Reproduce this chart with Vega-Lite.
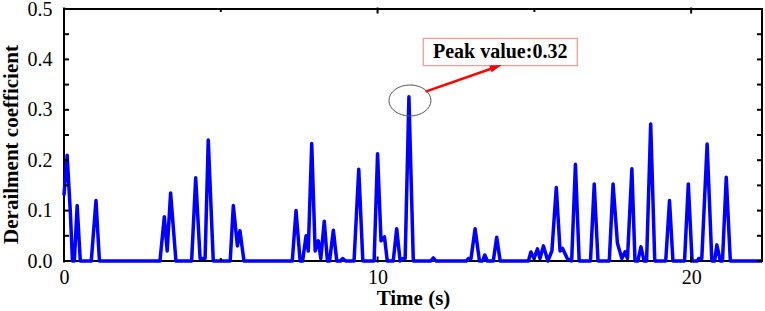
{
  "$schema": "https://vega.github.io/schema/vega-lite/v6.json",
  "width": 698,
  "height": 252,
  "autosize": {"type": "none"},
  "padding": {"left": 64, "top": 9, "right": 3, "bottom": 50},
  "background": "white",
  "config": {
    "view": {"stroke": "black", "strokeWidth": 2},
    "font": "Liberation Serif",
    "axis": {
      "domain": false,
      "grid": false,
      "ticks": false,
      "labelFont": "Liberation Serif",
      "labelFontSize": 20,
      "labelColor": "black",
      "labelFlush": false,
      "titleFont": "Liberation Serif",
      "titleFontSize": 21,
      "titleFontWeight": "bold",
      "titleColor": "black"
    }
  },
  "datasets": {
    "series": [
      {"t": 0, "c": 0.13}, {"t": 0.1, "c": 0.21}, {"t": 0.2, "c": 0.1}, {"t": 0.27, "c": 0}, {"t": 0.33, "c": 0},
      {"t": 0.42, "c": 0.11}, {"t": 0.52, "c": 0}, {"t": 0.87, "c": 0}, {"t": 1.02, "c": 0.12}, {"t": 1.13, "c": 0},
      {"t": 3.06, "c": 0}, {"t": 3.2, "c": 0.088}, {"t": 3.29, "c": 0.02}, {"t": 3.4, "c": 0.135}, {"t": 3.57, "c": 0},
      {"t": 4.07, "c": 0}, {"t": 4.2, "c": 0.165}, {"t": 4.34, "c": 0.005}, {"t": 4.5, "c": 0.005}, {"t": 4.6, "c": 0.24},
      {"t": 4.76, "c": 0}, {"t": 5.3, "c": 0}, {"t": 5.4, "c": 0.11}, {"t": 5.53, "c": 0.03}, {"t": 5.61, "c": 0.06},
      {"t": 5.74, "c": 0}, {"t": 7.28, "c": 0}, {"t": 7.4, "c": 0.1}, {"t": 7.53, "c": 0}, {"t": 7.61, "c": 0},
      {"t": 7.72, "c": 0.05}, {"t": 7.79, "c": 0.02}, {"t": 7.9, "c": 0.233}, {"t": 8.01, "c": 0.02}, {"t": 8.11, "c": 0.04},
      {"t": 8.19, "c": 0.005}, {"t": 8.3, "c": 0.079}, {"t": 8.4, "c": 0}, {"t": 8.47, "c": 0}, {"t": 8.59, "c": 0.061},
      {"t": 8.7, "c": 0}, {"t": 8.82, "c": 0}, {"t": 8.89, "c": 0.005}, {"t": 8.98, "c": 0}, {"t": 9.25, "c": 0},
      {"t": 9.4, "c": 0.182}, {"t": 9.53, "c": 0}, {"t": 9.89, "c": 0}, {"t": 10.0, "c": 0.213}, {"t": 10.11, "c": 0.04},
      {"t": 10.22, "c": 0.048}, {"t": 10.31, "c": 0}, {"t": 10.5, "c": 0}, {"t": 10.61, "c": 0.064}, {"t": 10.72, "c": 0},
      {"t": 10.82, "c": 0.005}, {"t": 10.88, "c": 0.005}, {"t": 11.0, "c": 0.326}, {"t": 11.14, "c": 0}, {"t": 11.7, "c": 0},
      {"t": 11.78, "c": 0.006}, {"t": 11.86, "c": 0}, {"t": 12.83, "c": 0}, {"t": 12.9, "c": 0.005}, {"t": 12.98, "c": 0.005},
      {"t": 13.11, "c": 0.064}, {"t": 13.25, "c": 0}, {"t": 13.35, "c": 0}, {"t": 13.42, "c": 0.012}, {"t": 13.5, "c": 0},
      {"t": 13.69, "c": 0}, {"t": 13.8, "c": 0.047}, {"t": 13.91, "c": 0}, {"t": 14.81, "c": 0}, {"t": 14.89, "c": 0.018},
      {"t": 14.99, "c": 0.005}, {"t": 15.1, "c": 0.024}, {"t": 15.18, "c": 0.005}, {"t": 15.29, "c": 0.03}, {"t": 15.43, "c": 0},
      {"t": 15.56, "c": 0.02}, {"t": 15.7, "c": 0.146}, {"t": 15.82, "c": 0.02}, {"t": 15.9, "c": 0.025}, {"t": 16.05, "c": 0.005},
      {"t": 16.19, "c": 0}, {"t": 16.31, "c": 0.192}, {"t": 16.43, "c": 0}, {"t": 16.79, "c": 0}, {"t": 16.91, "c": 0.153},
      {"t": 17.03, "c": 0}, {"t": 17.39, "c": 0}, {"t": 17.51, "c": 0.153}, {"t": 17.65, "c": 0.035}, {"t": 17.79, "c": 0.005},
      {"t": 17.89, "c": 0.018}, {"t": 17.97, "c": 0.005}, {"t": 18.11, "c": 0.183}, {"t": 18.21, "c": 0}, {"t": 18.3, "c": 0},
      {"t": 18.4, "c": 0.028}, {"t": 18.5, "c": 0}, {"t": 18.58, "c": 0}, {"t": 18.71, "c": 0.272}, {"t": 18.84, "c": 0},
      {"t": 19.19, "c": 0}, {"t": 19.31, "c": 0.12}, {"t": 19.42, "c": 0}, {"t": 19.79, "c": 0}, {"t": 19.91, "c": 0.153},
      {"t": 20.03, "c": 0}, {"t": 20.2, "c": 0}, {"t": 20.24, "c": 0.005}, {"t": 20.34, "c": 0.005}, {"t": 20.51, "c": 0.232},
      {"t": 20.66, "c": 0}, {"t": 20.75, "c": 0}, {"t": 20.82, "c": 0.032}, {"t": 20.93, "c": 0}, {"t": 21.0, "c": 0},
      {"t": 21.12, "c": 0.166}, {"t": 21.25, "c": 0}, {"t": 22.26, "c": 0}
    ],
    "xticks": [{"t": 0}, {"t": 5}, {"t": 10}, {"t": 15}, {"t": 20}],
    "yticks": [{"c": 0}, {"c": 0.05}, {"c": 0.1}, {"c": 0.15}, {"c": 0.2}, {"c": 0.25}, {"c": 0.3}, {"c": 0.35}, {"c": 0.4}, {"c": 0.45}, {"c": 0.5}],
    "annot": [
      {"peak_t": 11.033, "peak_c": 0.3185, "arrow_t0": 11.53, "arrow_c0": 0.336, "arrow_t1": 13.78, "arrow_c1": 0.385,
       "box_t0": 11.457, "box_t1": 16.368, "box_c0": 0.3875, "box_c1": 0.4419, "label_t": 13.91, "label_c": 0.4147,
       "label": "Peak value:0.32"}
    ]
  },
  "layer": [
    {
      "data": {"name": "series"},
      "mark": {"type": "line", "color": "#0000ff", "strokeWidth": 3.5, "strokeJoin": "round"},
      "encoding": {
        "x": {"field": "t", "type": "quantitative", "scale": {"domain": [0, 22.26], "nice": false, "zero": false},
              "axis": {"orient": "bottom", "values": [0, 10, 20], "labelPadding": 6, "title": "Time (s)", "titlePadding": 0}},
        "y": {"field": "c", "type": "quantitative", "scale": {"domain": [0, 0.5], "nice": false},
              "axis": {"orient": "left", "values": [0, 0.1, 0.2, 0.3, 0.4, 0.5], "format": ".1f", "labelPadding": 12, "title": "Derailment coefficient", "titlePadding": 6, "titleY": 135}}
      }
    },
    {
      "data": {"name": "xticks"},
      "mark": {"type": "tick", "orient": "vertical", "color": "black", "thickness": 2, "opacity": 1},
      "encoding": {
        "x": {"field": "t", "type": "quantitative", "scale": {"domain": [0, 22.26], "nice": false, "zero": false},
              "axis": {"orient": "bottom", "values": [0, 10, 20], "labelPadding": 6, "title": "Time (s)", "titlePadding": 0}},
        "y": {"datum": 0, "type": "quantitative", "scale": {"domain": [0, 0.5], "nice": false},
              "axis": {"orient": "left", "values": [0, 0.1, 0.2, 0.3, 0.4, 0.5], "format": ".1f", "labelPadding": 12, "title": "Derailment coefficient", "titlePadding": 6, "titleY": 135}},
        "size": {"condition": {"test": "datum.t % 10 == 0", "value": 6}, "value": 3},
        "yOffset": {"condition": {"test": "datum.t % 10 == 0", "value": -3}, "value": -1.5}
      }
    },
    {
      "data": {"name": "xticks"},
      "mark": {"type": "tick", "orient": "vertical", "color": "black", "thickness": 2, "opacity": 1},
      "encoding": {
        "x": {"field": "t", "type": "quantitative", "scale": {"domain": [0, 22.26], "nice": false, "zero": false},
              "axis": {"orient": "bottom", "values": [0, 10, 20], "labelPadding": 6, "title": "Time (s)", "titlePadding": 0}},
        "y": {"datum": 0.5, "type": "quantitative", "scale": {"domain": [0, 0.5], "nice": false},
              "axis": {"orient": "left", "values": [0, 0.1, 0.2, 0.3, 0.4, 0.5], "format": ".1f", "labelPadding": 12, "title": "Derailment coefficient", "titlePadding": 6, "titleY": 135}},
        "size": {"condition": {"test": "datum.t % 10 == 0", "value": 6}, "value": 3},
        "yOffset": {"condition": {"test": "datum.t % 10 == 0", "value": 3}, "value": 1.5}
      }
    },
    {
      "data": {"name": "yticks"},
      "mark": {"type": "tick", "orient": "horizontal", "color": "black", "thickness": 2, "size": 5, "xOffset": 2.5, "opacity": 1},
      "encoding": {
        "y": {"field": "c", "type": "quantitative", "scale": {"domain": [0, 0.5], "nice": false},
              "axis": {"orient": "left", "values": [0, 0.1, 0.2, 0.3, 0.4, 0.5], "format": ".1f", "labelPadding": 12, "title": "Derailment coefficient", "titlePadding": 6, "titleY": 135}},
        "x": {"datum": 0, "type": "quantitative", "scale": {"domain": [0, 22.26], "nice": false, "zero": false},
              "axis": {"orient": "bottom", "values": [0, 10, 20], "labelPadding": 6, "title": "Time (s)", "titlePadding": 0}}
      }
    },
    {
      "data": {"name": "yticks"},
      "mark": {"type": "tick", "orient": "horizontal", "color": "black", "thickness": 2, "size": 5, "xOffset": -2.5, "opacity": 1},
      "encoding": {
        "y": {"field": "c", "type": "quantitative", "scale": {"domain": [0, 0.5], "nice": false},
              "axis": {"orient": "left", "values": [0, 0.1, 0.2, 0.3, 0.4, 0.5], "format": ".1f", "labelPadding": 12, "title": "Derailment coefficient", "titlePadding": 6, "titleY": 135}},
        "x": {"datum": 22.26, "type": "quantitative", "scale": {"domain": [0, 22.26], "nice": false, "zero": false},
              "axis": {"orient": "bottom", "values": [0, 10, 20], "labelPadding": 6, "title": "Time (s)", "titlePadding": 0}}
      }
    },
    {
      "data": {"name": "annot"},
      "mark": {"type": "rect", "fill": "white", "stroke": "#f29a9a", "strokeWidth": 1.3},
      "encoding": {
        "x": {"field": "box_t0", "type": "quantitative", "scale": {"domain": [0, 22.26], "nice": false, "zero": false},
              "axis": {"orient": "bottom", "values": [0, 10, 20], "labelPadding": 6, "title": "Time (s)", "titlePadding": 0}},
        "x2": {"field": "box_t1"},
        "y": {"field": "box_c0", "type": "quantitative", "scale": {"domain": [0, 0.5], "nice": false},
              "axis": {"orient": "left", "values": [0, 0.1, 0.2, 0.3, 0.4, 0.5], "format": ".1f", "labelPadding": 12, "title": "Derailment coefficient", "titlePadding": 6, "titleY": 135}},
        "y2": {"field": "box_c1"}
      }
    },
    {
      "data": {"name": "annot"},
      "mark": {"type": "text", "font": "Liberation Serif", "fontSize": 20, "fontWeight": "bold", "color": "black", "align": "center", "baseline": "middle"},
      "encoding": {
        "x": {"field": "label_t", "type": "quantitative", "scale": {"domain": [0, 22.26], "nice": false, "zero": false},
              "axis": {"orient": "bottom", "values": [0, 10, 20], "labelPadding": 6, "title": "Time (s)", "titlePadding": 0}},
        "y": {"field": "label_c", "type": "quantitative", "scale": {"domain": [0, 0.5], "nice": false},
              "axis": {"orient": "left", "values": [0, 0.1, 0.2, 0.3, 0.4, 0.5], "format": ".1f", "labelPadding": 12, "title": "Derailment coefficient", "titlePadding": 6, "titleY": 135}},
        "text": {"field": "label"}
      }
    },
    {
      "data": {"name": "annot"},
      "mark": {"type": "rule", "color": "#ff0000", "strokeWidth": 2.5},
      "encoding": {
        "x": {"field": "arrow_t0", "type": "quantitative", "scale": {"domain": [0, 22.26], "nice": false, "zero": false},
              "axis": {"orient": "bottom", "values": [0, 10, 20], "labelPadding": 6, "title": "Time (s)", "titlePadding": 0}},
        "y": {"field": "arrow_c0", "type": "quantitative", "scale": {"domain": [0, 0.5], "nice": false},
              "axis": {"orient": "left", "values": [0, 0.1, 0.2, 0.3, 0.4, 0.5], "format": ".1f", "labelPadding": 12, "title": "Derailment coefficient", "titlePadding": 6, "titleY": 135}},
        "x2": {"field": "arrow_t1"},
        "y2": {"field": "arrow_c1"}
      }
    },
    {
      "data": {"name": "annot"},
      "mark": {"type": "point", "shape": "M -1 -0.6 L 1 0 L -1 0.6 Z", "filled": true, "color": "#ff0000", "size": 144, "angle": -19.4, "opacity": 1},
      "encoding": {
        "x": {"field": "arrow_t1", "type": "quantitative", "scale": {"domain": [0, 22.26], "nice": false, "zero": false},
              "axis": {"orient": "bottom", "values": [0, 10, 20], "labelPadding": 6, "title": "Time (s)", "titlePadding": 0}},
        "y": {"field": "arrow_c1", "type": "quantitative", "scale": {"domain": [0, 0.5], "nice": false},
              "axis": {"orient": "left", "values": [0, 0.1, 0.2, 0.3, 0.4, 0.5], "format": ".1f", "labelPadding": 12, "title": "Derailment coefficient", "titlePadding": 6, "titleY": 135}}
      }
    },
    {
      "data": {"name": "annot"},
      "mark": {"type": "point", "shape": "M -1 0 A 1 0.738 0 1 0 1 0 A 1 0.738 0 1 0 -1 0 Z", "filled": false, "stroke": "#555555", "strokeWidth": 1, "size": 1764, "opacity": 1},
      "encoding": {
        "x": {"field": "peak_t", "type": "quantitative", "scale": {"domain": [0, 22.26], "nice": false, "zero": false},
              "axis": {"orient": "bottom", "values": [0, 10, 20], "labelPadding": 6, "title": "Time (s)", "titlePadding": 0}},
        "y": {"field": "peak_c", "type": "quantitative", "scale": {"domain": [0, 0.5], "nice": false},
              "axis": {"orient": "left", "values": [0, 0.1, 0.2, 0.3, 0.4, 0.5], "format": ".1f", "labelPadding": 12, "title": "Derailment coefficient", "titlePadding": 6, "titleY": 135}}
      }
    }
  ]
}
